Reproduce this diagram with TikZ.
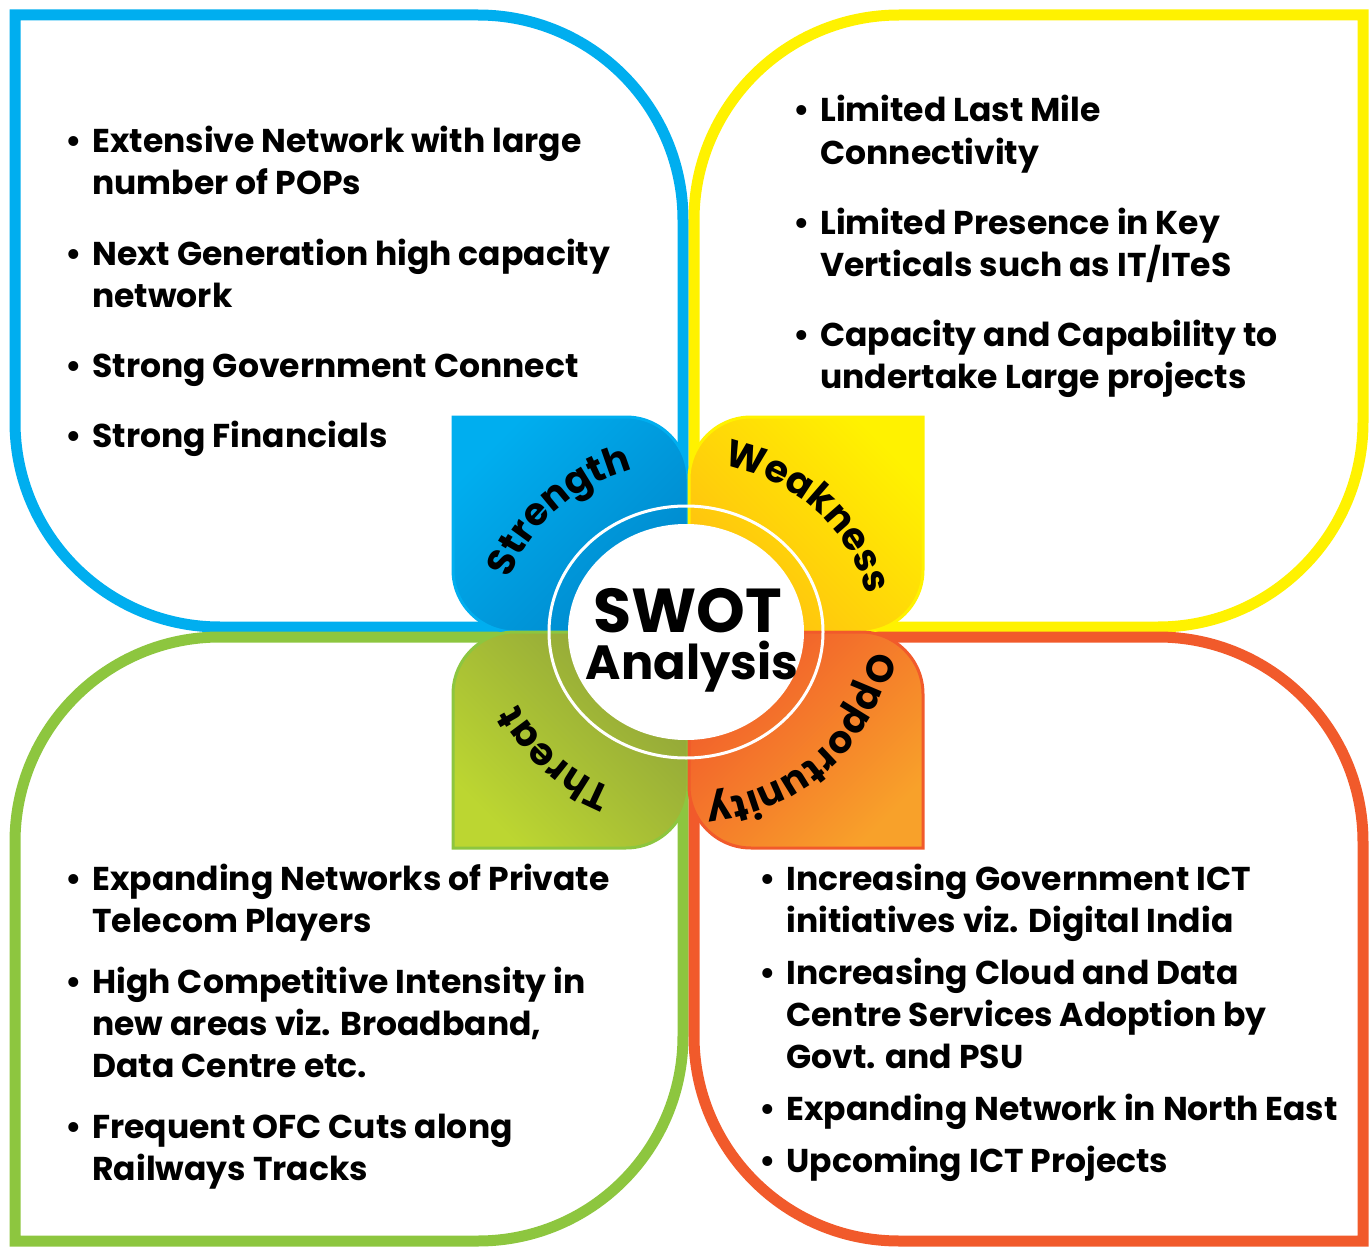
\documentclass[tikz,border=0pt]{standalone}
\usepackage{fontspec}
\setmainfont{Poppins}
\usepackage{tikz}
\usetikzlibrary{calc}
\usetikzlibrary{decorations.text}

\definecolor{swotblue}{HTML}{00AEEF}
\definecolor{swotblued}{HTML}{0088CC}
\definecolor{swotyellow}{HTML}{FFF200}
\definecolor{swotyellowd}{HTML}{FFBE10}
\definecolor{swotgreen}{HTML}{8DC63F}
\definecolor{swotgreenl}{HTML}{BCD631}
\definecolor{swotgreend}{HTML}{8FA33A}
\definecolor{swotorange}{HTML}{F15A2B}
\definecolor{swotorangel}{HTML}{F8A12A}

\newcommand{\bodyfont}{\bfseries\fontsize{16.5}{21}\selectfont}
\newcommand{\petalfont}{\bfseries\fontsize{19}{21}\selectfont}
\newcommand{\bul}{\llap{\textbullet\hspace{5pt}}}

\tikzset{
  quadframe/.style={line width=5.5pt},
  petal/.style={line width=1.5pt},
  % base anchor sits on the last line
  pointtext/.style={anchor=base west, align=left, inner sep=0pt, font=\bodyfont},
  petallabel/.style={decorate, decoration={text along path, text align=center,
    text={|\petalfont|#1}}},
}

\begin{document}
\begin{tikzpicture}[x=0.5pt, y=0.5pt]

  \useasboundingbox (0,0) rectangle (1372,-1247);

  \coordinate (ctr) at (686,-632);

  % Quadrant frames
  \draw[quadframe, swotblue] (15,-15) -- (478,-15)
    arc[start angle=90, end angle=0, radius=205] -- (683,-627) -- (220,-627)
    arc[start angle=270, end angle=180, radius=205] -- cycle;
  \draw[quadframe, swotyellow] (899,-15) -- (1363,-15) -- (1363,-422)
    arc[start angle=0, end angle=-90, radius=205] -- (694,-627) -- (694,-220)
    arc[start angle=180, end angle=90, radius=205] -- cycle;
  \draw[quadframe, swotgreen] (15,-842)
    arc[start angle=180, end angle=90, radius=205] -- (683,-637) -- (683,-1036)
    arc[start angle=0, end angle=-90, radius=205] -- (15,-1241) -- cycle;
  \draw[quadframe, swotorange] (694,-637) -- (1158,-637)
    arc[start angle=90, end angle=0, radius=205] -- (1363,-1241) -- (899,-1241)
    arc[start angle=270, end angle=180, radius=205] -- cycle;

  % Petals
  \draw[petal, draw=swotblue, top color=swotblue, bottom color=swotblued,
    shading angle=45] (453,-417) -- (626,-417)
    arc[start angle=90, end angle=0, radius=62] -- (688,-632) -- (515,-632)
    arc[start angle=270, end angle=180, radius=62] -- cycle;
  \draw[petal, draw=swotyellow, top color=swotyellow, bottom color=swotyellowd,
    shading angle=-45] (751,-417) -- (923,-417) -- (923,-570)
    arc[start angle=0, end angle=-90, radius=62] -- (689,-632) -- (689,-479)
    arc[start angle=180, end angle=90, radius=62] -- cycle;
  \draw[petal, draw=swotgreen, top color=swotgreend, bottom color=swotgreenl,
    shading angle=-45] (453,-694)
    arc[start angle=180, end angle=90, radius=62] -- (688,-632) -- (688,-786)
    arc[start angle=0, end angle=-90, radius=62] -- (453,-848) -- cycle;
  \draw[petal, draw=swotorange, top color=swotorange, bottom color=swotorangel,
    shading angle=45] (689,-632) -- (861,-632)
    arc[start angle=90, end angle=0, radius=62] -- (923,-848) -- (751,-848)
    arc[start angle=270, end angle=180, radius=62] -- cycle;

  % Centre ring and disc
  \draw[white, line width=1.5pt] (ctr) ellipse[x radius=137, y radius=126];
  \fill[white] (ctr) ellipse[x radius=118, y radius=108];
  \node[font=\bfseries\fontsize{31}{33}\selectfont, anchor=base, inner sep=0pt]
    (swot) at (688,-632) {SWOT};
  \node[font=\bfseries\fontsize{24}{26}\selectfont, anchor=base, inner sep=0pt]
    (analysis) at (692,-679) {Analysis};

  % Petal labels
  \path[petallabel=Strength] ($(ctr)+(180:185 and 170)$)
    arc[start angle=180, end angle=90, x radius=185, y radius=170];
  \path[petallabel=Weakness] ($(ctr)+(90:185 and 170)$)
    arc[start angle=90, end angle=0, x radius=185, y radius=170];
  \path[petallabel=Opportunity] ($(ctr)+(0:185 and 170)$)
    arc[start angle=0, end angle=-90, x radius=185, y radius=170];
  \path[petallabel=Threat] ($(ctr)+(-90:185 and 170)$)
    arc[start angle=-90, end angle=-180, x radius=185, y radius=170];

  % Strength points
  \node[pointtext] (s1) at (92,-195) {\bul Extensive Network with large\\number of POPs};
  \node[pointtext] (s2) at (92,-307) {\bul Next Generation high capacity\\network};
  \node[pointtext] (s3) at (92,-377) {\bul Strong Government Connect};
  \node[pointtext] (s4) at (92,-447) {\bul Strong Financials};

  % Weakness points
  \node[pointtext] (w1) at (820,-164) {\bul Limited Last Mile\\Connectivity};
  \node[pointtext] (w2) at (820,-277) {\bul Limited Presence in Key\\Verticals such as IT/ITeS};
  \node[pointtext] (w3) at (820,-388) {\bul Capacity and Capability to\\undertake Large projects};

  % Threat points
  \node[pointtext] (t1) at (92,-932) {\bul Expanding Networks of Private\\Telecom Players};
  \node[pointtext] (t2) at (92,-1077) {\bul High Competitive Intensity in\\new areas viz. Broadband,\\Data Centre etc.};
  \node[pointtext] (t3) at (92,-1180) {\bul Frequent OFC Cuts along\\Railways Tracks};

  % Opportunity points
  \node[pointtext] (o1) at (786,-932) {\bul Increasing Government ICT\\initiatives viz. Digital India};
  \node[pointtext] (o2) at (786,-1068) {\bul Increasing Cloud and Data\\Centre Services Adoption by\\Govt. and PSU};
  \node[pointtext] (o3) at (786,-1120) {\bul Expanding Network in North East};
  \node[pointtext] (o4) at (786,-1172) {\bul Upcoming ICT Projects};

\end{tikzpicture}
\end{document}
